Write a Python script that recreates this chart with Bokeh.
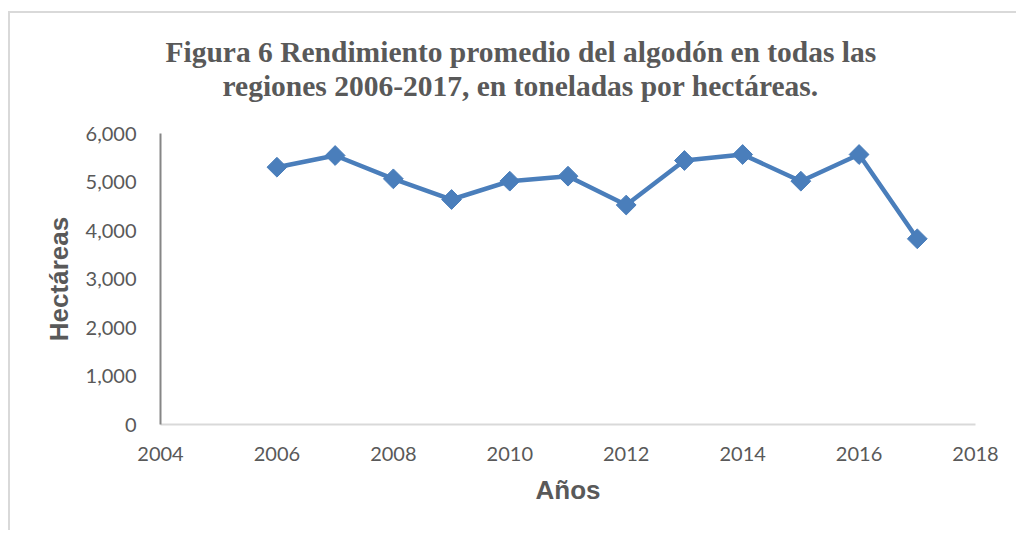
import numpy as np
from bokeh.plotting import figure
from bokeh.models import Title, NumeralTickFormatter, FixedTicker, Range1d
from bokeh.embed import file_html
from bokeh.resources import INLINE

years = [2006, 2007, 2008, 2009, 2010, 2011, 2012, 2013, 2014, 2015, 2016, 2017]
rendimiento = [5305, 5546, 5065, 4639, 5017, 5120, 4525, 5443, 5567, 5017, 5567, 3829]
x_ticks = [2004, 2006, 2008, 2010, 2012, 2014, 2016, 2018]
y_ticks = [0, 1000, 2000, 3000, 4000, 5000, 6000]
title_lines = ["Figura 6 Rendimiento promedio del algodón en todas las",
               "regiones 2006-2017, en toneladas por hectáreas."]

BLUE = "#4a7ebb"
GRAY = "#595959"

p = figure(width=1008, height=519, output_backend="svg", toolbar_location=None,
           x_range=Range1d(2004, 2018), y_range=Range1d(0, 6000),
           min_border_left=150, min_border_right=43, min_border_top=120, min_border_bottom=108)
p.styles = {"border-top": "2px solid #d9d9d9", "border-left": "2px solid #d9d9d9",
            "margin-top": "11px", "margin-left": "8px"}
p.outline_line_color = None
p.xgrid.grid_line_color = None
p.ygrid.grid_line_color = None
p.background_fill_color = "white"
p.border_fill_color = "white"

p.line(years, rendimiento, line_color=BLUE, line_width=4.5)
p.scatter(years, rendimiento, marker="square", angle=np.pi / 4, size=14,
          fill_color=BLUE, line_color=BLUE)

for ax in (p.xaxis[0], p.yaxis[0]):
    ax.major_tick_line_color = None
    ax.minor_tick_line_color = None
    ax.major_label_text_font = "Lato"
    ax.major_label_text_font_size = "20px"
    ax.major_label_text_color = GRAY
    ax.axis_label_text_font = "Liberation Sans"
    ax.axis_label_text_font_style = "bold"
    ax.axis_label_text_font_size = "26px"
    ax.axis_label_text_color = GRAY

p.xaxis.ticker = FixedTicker(ticks=x_ticks)
p.yaxis.ticker = FixedTicker(ticks=y_ticks)
p.yaxis.formatter = NumeralTickFormatter(format="0,0")
p.xaxis.axis_label = "Años"
p.yaxis.axis_label = "Hectáreas"
p.xaxis.axis_line_color = "#d9d9d9"
p.xaxis.axis_line_width = 2
p.yaxis.axis_line_color = "#868686"
p.yaxis.axis_line_width = 2
p.xaxis.major_label_standoff = 16
p.yaxis.major_label_standoff = 18
p.xaxis.axis_label_standoff = 11
p.yaxis.axis_label_standoff = 9

title_style = dict(align="left", text_font="Liberation Serif", text_font_style="bold",
                   text_font_size="29.5px", text_color=GRAY)
# top line (farther from the frame)
p.title.text = title_lines[0]
for k, v in title_style.items():
    setattr(p.title, k, v)
p.title.offset = 5
p.title.standoff = -65
# second line (closer to the frame)
p.add_layout(Title(text=title_lines[1], standoff=64, offset=62, **title_style), "above")

open("out.html", "w").write(file_html(p, INLINE))
